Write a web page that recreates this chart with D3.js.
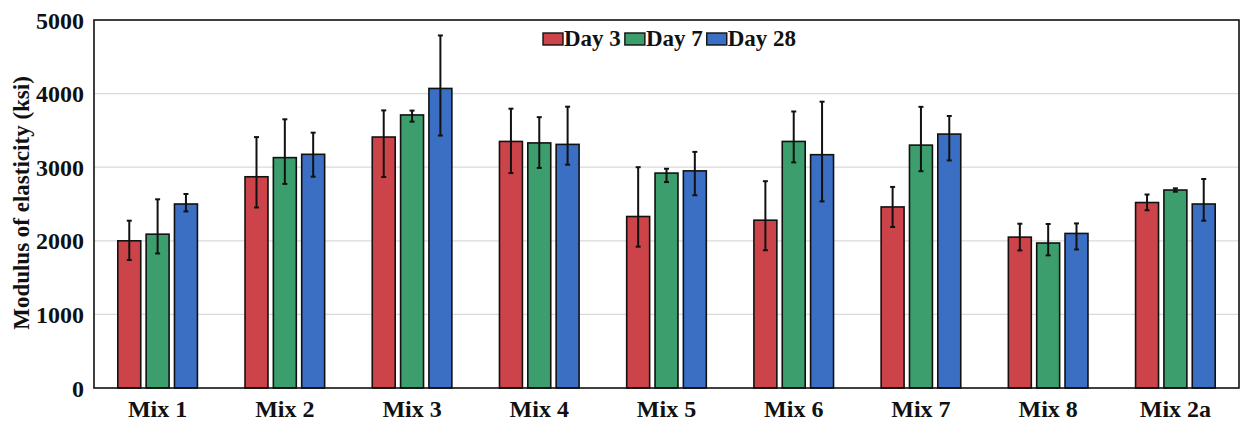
<!DOCTYPE html>
<html>
<head>
<meta charset="utf-8">
<script src="https://cdn.jsdelivr.net/npm/d3@7"></script>
<style>
  html, body { margin: 0; padding: 0; background: #fff; }
  svg { display: block; }
</style>
</head>
<body>
<svg id="chart" width="1244" height="426"></svg>
<script>
// Mixes along the x axis
const mixes = ["Mix 1", "Mix 2", "Mix 3", "Mix 4", "Mix 5", "Mix 6", "Mix 7", "Mix 8", "Mix 2a"];
// Curing ages, one bar each per mix
const ages = ["Day 3", "Day 7", "Day 28"];
const ageColors = ["#cc4449", "#3c9e6c", "#3a6fc4"];

// Mean modulus of elasticity (ksi)
const day3 = [2000, 2870, 3410, 3350, 2330, 2280, 2460, 2050, 2520];
const day7 = [2090, 3130, 3710, 3330, 2920, 3350, 3300, 1970, 2690];
const day28 = [2500, 3175, 4070, 3310, 2950, 3170, 3450, 2100, 2500];

// Error bar extents above and below the mean (ksi)
const day3ErrUp = [273, 539, 362, 445, 670, 530, 272, 182, 109];
const day3ErrDown = [261, 417, 543, 430, 410, 408, 272, 181, 105];
const day7ErrUp = [474, 521, 59, 350, 59, 407, 520, 258, 23];
const day7ErrDown = [262, 357, 91, 340, 122, 285, 354, 168, 23];
const day28ErrUp = [136, 294, 720, 512, 258, 720, 246, 136, 340];
const day28ErrDown = [101, 304, 640, 276, 331, 635, 358, 218, 227];

const yTicks = [0, 1000, 2000, 3000, 4000, 5000];
const yLabel = "Modulus of elasticity (ksi)";

const FONT = '"Liberation Serif", "Times New Roman", Tinos, serif';

const seriesValues = [day3, day7, day28];
const seriesUp = [day3ErrUp, day7ErrUp, day28ErrUp];
const seriesDown = [day3ErrDown, day7ErrDown, day28ErrDown];

const svg = d3.select("#chart");
const margin = { top: 20, right: 5, bottom: 38, left: 94 };
const W = 1244, H = 426;
const innerW = W - margin.left - margin.right;
const innerH = H - margin.top - margin.bottom;

const g = svg.append("g").attr("transform", `translate(${margin.left},${margin.top})`);

const x = d3.scaleBand().domain(mixes).range([0, innerW]).padding(0);
const xSub = d3.scaleBand().domain(ages).range([0, x.bandwidth()])
  .paddingInner(0.19).paddingOuter(0.84);
const y = d3.scaleLinear().domain([0, 5000]).range([innerH, 0]);

// horizontal grid lines
g.append("g").selectAll("line")
  .data(yTicks.filter(t => t > 0 && t < 5000))
  .join("line")
  .attr("x1", 0).attr("x2", innerW)
  .attr("y1", d => y(d)).attr("y2", d => y(d))
  .attr("stroke", "#dadada").attr("stroke-width", 1.2);

// flatten into bar records
const records = [];
mixes.forEach((m, i) => {
  ages.forEach((a, j) => {
    records.push({
      mix: m, age: a, j,
      value: seriesValues[j][i],
      up: seriesUp[j][i],
      down: seriesDown[j][i]
    });
  });
});

g.append("g").selectAll("rect")
  .data(records)
  .join("rect")
  .attr("x", d => x(d.mix) + xSub(d.age))
  .attr("width", xSub.bandwidth())
  .attr("y", d => y(d.value))
  .attr("height", d => y(0) - y(d.value))
  .attr("fill", d => ageColors[d.j])
  .attr("stroke", "#111")
  .attr("stroke-width", 1.6);

// error bars
const err = g.append("g").attr("stroke", "#111").attr("stroke-width", 2);
const cx = d => x(d.mix) + xSub(d.age) + xSub.bandwidth() / 2;
err.selectAll("line.stem")
  .data(records).join("line").attr("class", "stem")
  .attr("x1", cx).attr("x2", cx)
  .attr("y1", d => y(d.value + d.up))
  .attr("y2", d => y(d.value - d.down));
err.selectAll("line.capTop")
  .data(records).join("line").attr("class", "capTop")
  .attr("x1", d => cx(d) - 2.5).attr("x2", d => cx(d) + 2.5)
  .attr("y1", d => y(d.value + d.up)).attr("y2", d => y(d.value + d.up));
err.selectAll("line.capBot")
  .data(records).join("line").attr("class", "capBot")
  .attr("x1", d => cx(d) - 2.5).attr("x2", d => cx(d) + 2.5)
  .attr("y1", d => y(d.value - d.down)).attr("y2", d => y(d.value - d.down));

// y axis labels (no tick marks)
const yAxis = g.append("g")
  .call(d3.axisLeft(y).tickValues(yTicks).tickSize(0).tickPadding(10).tickFormat(d3.format("d")));
yAxis.select(".domain").remove();
yAxis.selectAll("text")
  .style("font-family", FONT).style("font-weight", "bold").style("font-size", "24px")
  .attr("fill", "#111").attr("dy", "0.34em");

// x axis labels
const xAxis = g.append("g").attr("transform", `translate(0,${innerH})`)
  .call(d3.axisBottom(x).tickSize(0));
xAxis.select(".domain").remove();
xAxis.selectAll("text")
  .style("font-family", FONT).style("font-weight", "bold").style("font-size", "24px")
  .attr("fill", "#111").attr("y", 29).attr("dy", 0);

// frame
g.append("rect")
  .attr("x", 0).attr("y", 0).attr("width", innerW).attr("height", innerH)
  .attr("fill", "none").attr("stroke", "#111").attr("stroke-width", 1.6);

// y axis title
svg.append("text")
  .attr("transform", `translate(29,${margin.top + innerH / 2 - 1}) rotate(-90)`)
  .attr("text-anchor", "middle")
  .style("font-family", FONT).style("font-weight", "bold").style("font-size", "23px")
  .attr("fill", "#111")
  .text(yLabel);

// legend
const legend = svg.append("g").attr("transform", "translate(543,33)");
let lx = 0;
ages.forEach((a, j) => {
  legend.append("rect")
    .attr("x", lx).attr("y", 0).attr("width", 20).attr("height", 12)
    .attr("fill", ageColors[j]).attr("stroke", "#111").attr("stroke-width", 1.4);
  const t = legend.append("text")
    .attr("x", lx + 21).attr("y", 13)
    .style("font-family", FONT).style("font-weight", "bold").style("font-size", "23px")
    .attr("fill", "#111")
    .text(a);
  lx += 21 + t.node().getComputedTextLength() + 4;
});
</script>
</body>
</html>
